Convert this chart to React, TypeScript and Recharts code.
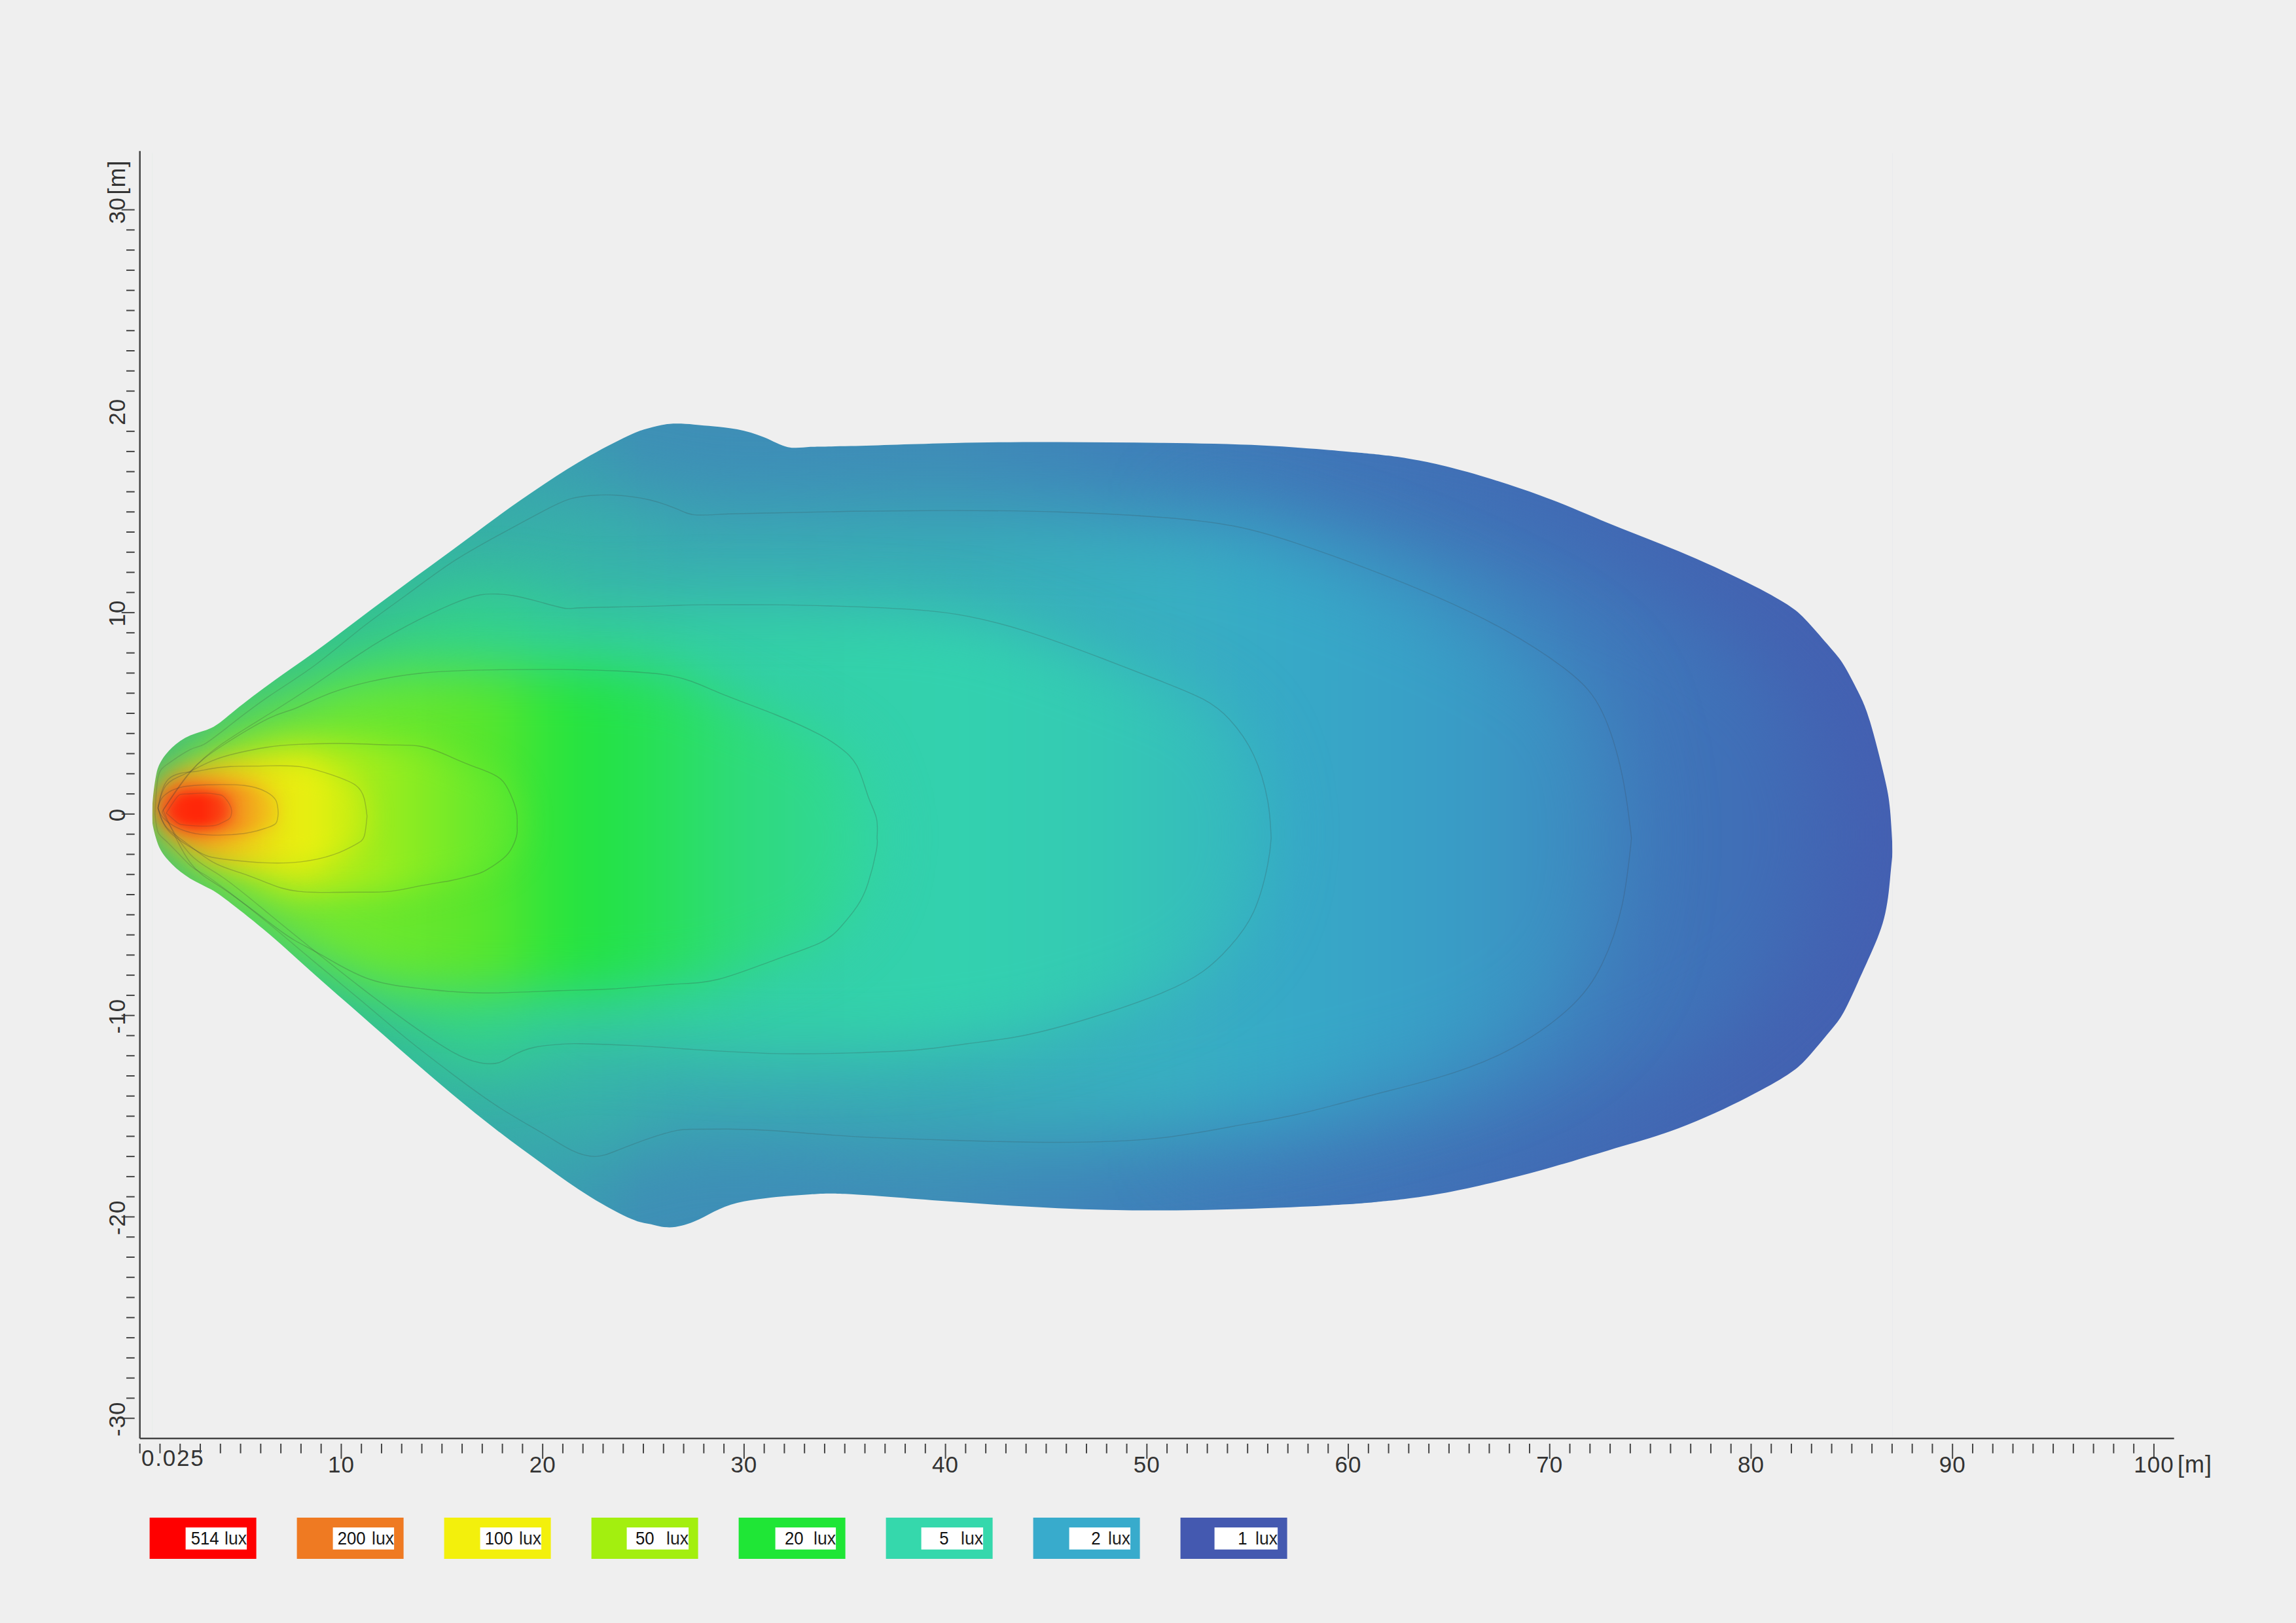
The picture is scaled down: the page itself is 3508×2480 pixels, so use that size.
import { Area, ComposedChart, XAxis, YAxis } from "recharts";

const WIDTH = 3508;
const HEIGHT = 2480;
const BG = "#efefef";
const AXIS = "#444444";
const TEXT = "#333333";
const FONT = "'Liberation Sans', Arial, sans-serif";

const xDomain = [0, 101];
const yDomain = [-31, 32.92];
const xTicks = Array.from({ length: 101 }, (_, i) => i);
const yTicks = Array.from({ length: 61 }, (_, i) => 30 - i);

// outer edge of the lit area (1 lux) in metres
const edgeX = [0.6, 0.65, 0.8, 1.04, 1.6, 2.5, 3.55, 4.56, 6.4, 8.68, 10.96, 13.24, 15.5, 17.8, 20.1, 22.36, 24.4, 25.3, 26.3, 27.5, 28.5, 29.66, 31, 32.17, 33.3, 35.3, 40.4, 45.6, 50.7, 55.8, 59.9, 62, 65.1, 69.5, 72.9, 76.4, 79.8, 81.8, 82.8, 83.9, 84.6, 85.3, 85.9, 86.6, 86.9, 87.03];
const edgeUp = [-0.1, 0.8, 1.9, 2.6, 3.3, 3.9, 4.28, 5.02, 6.43, 8.05, 9.75, 11.45, 13.1, 14.8, 16.4, 17.8, 18.85, 19.17, 19.37, 19.34, 19.25, 19.1, 18.7, 18.22, 18.23, 18.27, 18.42, 18.47, 18.43, 18.3, 18, 17.79, 17.2, 15.83, 14.45, 13.05, 11.5, 10.4, 9.55, 8.3, 7.4, 6.1, 4.6, 1.92, 0.2, -1.87];
const edgeLo = [-0.1, -0.6, -1.2, -1.8, -2.5, -3.2, -3.75, -4.46, -5.94, -7.97, -9.97, -11.97, -13.9, -15.75, -17.45, -19, -20.1, -20.35, -20.52, -20.24, -19.74, -19.3, -19.08, -18.96, -18.88, -18.87, -19.25, -19.57, -19.68, -19.57, -19.38, -19.2, -18.75, -17.7, -16.7, -15.6, -14.07, -12.95, -12.1, -10.8, -9.83, -8.36, -7.03, -5.18, -3.2, -1.87];

// isolux contours, each as x / upper y / lower y
const c2X = [0.75, 0.9, 1.4, 2.5, 3.2, 4.46, 6.4, 8.68, 10.96, 13.24, 15.5, 17.8, 20.08, 21.45, 22.6, 23.7, 25.3, 26.7, 27.6, 29.2, 31.5, 35.3, 40.4, 45.6, 50.5, 54.3, 57.5, 61, 64.4, 67.8, 70.9, 72.6, 73.6, 74.06];
const c2Up = [0, 1.8, 2.5, 3.2, 3.47, 4.4, 5.84, 7.38, 9.2, 10.88, 12.5, 13.84, 15.07, 15.67, 15.83, 15.83, 15.6, 15.13, 14.85, 14.9, 14.95, 15.03, 15.07, 15.0, 14.75, 14.3, 13.42, 12.16, 10.78, 9.12, 7.1, 5.08, 1.92, -1.2];
const c2Lo = [0, -0.9, -1.43, -2.55, -3.0, -3.9, -5.44, -7.35, -9.24, -11.15, -12.9, -14.54, -15.9, -16.7, -17.0, -16.7, -16.1, -15.7, -15.65, -15.64, -15.72, -16.0, -16.2, -16.3, -16.1, -15.5, -14.9, -14.0, -13.1, -11.8, -9.7, -7.44, -4.5, -1.2];

const c5X = [1.1, 2.5, 4.1, 6.4, 8.68, 10.96, 13.24, 15.5, 16.9, 17.8, 18.5, 19.6, 21, 21.9, 24.6, 26.9, 28, 31.5, 35.3, 38.7, 41.1, 43.85, 47.27, 50.7, 52.8, 54.1, 55.3, 56, 56.17];
const c5Up = [0.1, 2.07, 3.5, 4.96, 6.43, 7.98, 9.33, 10.42, 10.88, 10.92, 10.85, 10.6, 10.23, 10.24, 10.3, 10.37, 10.39, 10.39, 10.3, 10.13, 9.82, 9.12, 7.92, 6.6, 5.7, 4.7, 2.93, 0.65, -1.2];
const c5Lo = [0.1, -2, -3.13, -4.95, -6.8, -8.6, -10.3, -11.8, -12.35, -12.35, -12, -11.58, -11.42, -11.4, -11.5, -11.65, -11.72, -11.89, -11.86, -11.7, -11.4, -11.0, -10.1, -8.9, -7.8, -6.6, -4.85, -2.5, -1.2];

const c20X = [1.15, 2.5, 4.1, 6.4, 7.65, 9.2, 11.4, 14, 17, 20.8, 23.5, 26.46, 28.74, 31.5, 33.76, 34.8, 35.6, 36.15, 36.57, 36.6];
const c20Up = [0.2, 2.1, 3.4, 4.75, 5.22, 5.9, 6.57, 7.0, 7.15, 7.18, 7.11, 6.85, 6.03, 4.96, 3.94, 3.27, 2.4, 0.9, -0.2, -1.2];
const c20Lo = [0.2, -2.41, -3.68, -5.37, -6.25, -7.1, -8.2, -8.67, -8.88, -8.77, -8.68, -8.45, -8.2, -7.25, -6.4, -5.6, -4.6, -3.45, -1.8, -1.2];

const c50X = [0.9, 1.3, 2.25, 3.6, 4.94, 6.28, 7.9, 10.5, 12.4, 14, 15.45, 16.4, 17.07, 17.9, 18.4, 18.7, 18.73];
const c50Up = [0.3, 1.42, 2.0, 2.65, 3.05, 3.31, 3.46, 3.5, 3.43, 3.35, 2.83, 2.43, 2.18, 1.75, 0.99, 0.12, -0.6];
const c50Lo = [0.3, -0.63, -1.4, -2.37, -2.9, -3.4, -3.84, -3.88, -3.84, -3.55, -3.3, -3.07, -2.85, -2.32, -1.8, -1.1, -0.6];

const c100X = [0.9, 1.44, 2.64, 3.4, 4.5, 6.2, 8, 9.66, 10.73, 11.14, 11.28];
const c100Up = [0.3, 1.75, 2.1, 2.23, 2.36, 2.39, 2.35, 1.9, 1.42, 0.77, -0.1];
const c100Lo = [0.3, -0.85, -1.72, -2.1, -2.28, -2.42, -2.37, -2.0, -1.5, -1.1, -0.1];

const c200X = [0.9, 1.17, 2, 3.32, 5.2, 6.28, 6.76, 6.87];
const c200Up = [0.3, 0.88, 1.32, 1.45, 1.42, 1.1, 0.67, 0.05];
const c200Lo = [0.3, -0.2, -0.75, -1.03, -0.96, -0.69, -0.45, 0.05];

const c514X = [1.31, 1.85, 2.3, 3.3, 3.87, 4.14, 4.47, 4.56];
const c514Up = [0.05, 0.85, 1.0, 1.04, 0.97, 0.88, 0.45, 0.15];
const c514Lo = [0.05, -0.42, -0.55, -0.6, -0.53, -0.4, -0.2, 0.15];

// a soft zone with no contour of its own, keeps the far end from going flat
const shadeX = [52, 58, 64, 70, 75, 80, 83, 84.5];
const shadeUp = [15.5, 15, 14, 12.5, 10.5, 7.5, 4, -1];
const shadeLo = [-17, -16.8, -16, -14.5, -12.5, -9.5, -6, -1];

// colour along x for each zone
const baseStops: [number, string][] = [[0, "#4abb78"], [3, "#45bd80"], [6, "#3fc285"], [10, "#36bd92"], [15, "#36b0a5"], [20, "#3aa0b0"], [25, "#3e90b6"], [32, "#3e8eb8"], [40, "#3f8cb8"], [50, "#3f80ba"], [60, "#4075b8"], [70, "#416cb5"], [80, "#4364b2"], [87, "#4460b2"]];
const shadeStops: [number, string][] = [[52, "#3e85bc"], [62, "#3e85bc"], [70, "#3f7cbc"], [78, "#3f72b8"], [84, "#4265b3"]];
const c2Stops: [number, string][] = [[0, "#55c070"], [5, "#40cc7a"], [10, "#35c890"], [15, "#35c29a"], [20, "#36b8a5"], [25, "#38b0ae"], [30, "#39b0b2"], [40, "#38aeb6"], [50, "#38b0c0"], [58, "#37a8c8"], [65, "#399dc6"], [70, "#3c90c2"], [74, "#3f80bc"]];
const c5Stops: [number, string][] = [[0, "#70d050"], [5, "#55d850"], [10, "#3dd870"], [15, "#35d585"], [20, "#33d292"], [30, "#33cfa5"], [40, "#33d2ae"], [48, "#34c9b4"], [53, "#36bcbc"], [56, "#34b4c0"]];
const c20Stops: [number, string][] = [[0, "#90d840"], [6, "#80e430"], [11, "#70e82e"], [15, "#62e62c"], [17.8, "#55e62e"], [20, "#33e53a"], [22, "#22e340"], [26, "#28e05a"], [29.4, "#2edb78"], [33, "#30d88c"], [36.5, "#33d6a0"]];
const c50Stops: [number, string][] = [[0, "#d0b020"], [3, "#c8d020"], [6, "#c8e818"], [8, "#d5ec12"], [10, "#b4ec18"], [13, "#90ec20"], [16, "#70ea2a"], [18.7, "#55e832"]];
const c100Stops: [number, string][] = [[1, "#f07020"], [3, "#f0a020"], [5, "#eec81a"], [7, "#e8e812"], [8.5, "#e8f010"], [10, "#d0ee12"], [11.3, "#b8ec16"]];
const c200Stops: [number, string][] = [[1, "#f06020"], [2.5, "#f5501a"], [4.5, "#f5801e"], [5.5, "#f2a81c"], [6.9, "#eed018"]];
const c514Stops: [number, string][] = [[1, "#f34020"], [2, "#ff2c0a"], [3, "#ff2408"], [4, "#fa4012"], [4.6, "#f66020"]];

const legendValues = ["514", "200", "100", "50", "20", "5", "2", "1"];
const legendColors = ["#ff0000", "#ef7a22", "#f3f00c", "#a3ef0f", "#1fe636", "#35d8ac", "#38abcc", "#4459b0"];
const legendValueEnd = [106, 105, 105, 96, 99, 96, 103, 102];
const legendBoxStart = [55, 55, 55, 54, 56, 54, 55, 52];

function band(xs: number[], up: number[], lo: number[]) {
  return xs.map((x, i) => ({ x, y: [lo[i], up[i]] }));
}

const shadeZone = { id: "shade", data: band(shadeX, shadeUp, shadeLo), stops: shadeStops, blur: 55 };
const zones = [
  { id: "c2", data: band(c2X, c2Up, c2Lo), stops: c2Stops, blur: 60, line: 0.2 },
  { id: "c5", data: band(c5X, c5Up, c5Lo), stops: c5Stops, blur: 45, line: 0.22 },
  { id: "c20", data: band(c20X, c20Up, c20Lo), stops: c20Stops, blur: 40, line: 0.24 },
  { id: "c50", data: band(c50X, c50Up, c50Lo), stops: c50Stops, blur: 24, line: 0.28 },
  { id: "c100", data: band(c100X, c100Up, c100Lo), stops: c100Stops, blur: 18, line: 0.28 },
  { id: "c200", data: band(c200X, c200Up, c200Lo), stops: c200Stops, blur: 12, line: 0.28 },
  { id: "c514", data: band(c514X, c514Up, c514Lo), stops: c514Stops, blur: 8, line: 0.22 },
];
const blurred = [shadeZone, ...zones];

const baseData = [
  { x: 0.1, y: [yDomain[0] + 0.1, yDomain[1] - 0.1] },
  { x: 100.9, y: [yDomain[0] + 0.1, yDomain[1] - 0.1] },
];

// grey covers outside the edge, they give the shape its crisp outline
const coverTop = edgeX.map((x, i) => ({ x, y: [edgeUp[i], yDomain[1]] }));
const coverBottom = edgeX.map((x, i) => ({ x, y: [yDomain[0], edgeLo[i]] }));
const coverLeft = [
  { x: 0, y: yDomain },
  { x: edgeX[0] + 0.02, y: yDomain },
];
const coverRight = [
  { x: edgeX[edgeX.length - 1] - 0.02, y: yDomain },
  { x: xDomain[1], y: yDomain },
];

function Gradient({ id, stops }: { id: string; stops: [number, string][] }) {
  return (
    <linearGradient id={`grad-${id}`} gradientUnits="userSpaceOnUse" x1={213.7} x2={3321.7} y1={0} y2={0}>
      {stops.map(([x, color]) => (
        <stop key={x} offset={x / xDomain[1]} stopColor={color} />
      ))}
    </linearGradient>
  );
}

function XTick({ x, y, payload }: any) {
  const v = payload.value;
  const major = v % 10 === 0 && v > 0;
  return (
    <g>
      <line x1={x} x2={x} y1={y} y2={y + (major ? 23 : 14.7)} stroke={AXIS} strokeWidth={2} />
      {v === 0 && (
        <text x={216} y={2240} fontSize={35} letterSpacing={1.8} fill={TEXT} fontFamily={FONT}>
          0.025
        </text>
      )}
      {major && (
        <text x={x} y={2250} fontSize={35} letterSpacing={1} textAnchor="middle" fill={TEXT} fontFamily={FONT}>
          {v}
        </text>
      )}
      {v === 100 && (
        <text x={x + 36} y={2250} fontSize={36} letterSpacing={1} fill={TEXT} fontFamily={FONT}>
          [m]
        </text>
      )}
    </g>
  );
}

function YTick({ x, y, payload }: any) {
  const v = payload.value;
  const major = v % 10 === 0;
  const labelX = 178.5;
  return (
    <g>
      {/* the 20 mark is missing in the original too */}
      {v !== 20 && <line x1={x - (major ? 20 : 12.7)} x2={x} y1={y} y2={y} stroke={AXIS} strokeWidth={2} />}
      {major && (
        <text
          transform={`translate(${labelX} ${y + 1}) rotate(-90)`}
          y={12}
          fontSize={35}
          letterSpacing={1}
          textAnchor="middle"
          fill={TEXT}
          fontFamily={FONT}
        >
          {v}
        </text>
      )}
      {v === 30 && (
        <text transform={`translate(${labelX} ${y}) rotate(-90)`} x={23} y={12} fontSize={36} letterSpacing={1} fill={TEXT} fontFamily={FONT}>
          [m]
        </text>
      )}
    </g>
  );
}

function LuxLegend() {
  return (
    <svg width={WIDTH} height={HEIGHT} style={{ position: "absolute", left: 0, top: 0, pointerEvents: "none" }}>
      {legendValues.map((value, i) => {
        const left = 228.6 + i * 225;
        const digitsWidth = value.length * 14.3;
        return (
          <g key={value} fontFamily={FONT}>
            <rect x={left} y={2319} width={163} height={63} fill={legendColors[i]} />
            <rect x={left + legendBoxStart[i]} y={2334} width={148.5 - legendBoxStart[i]} height={33.7} fill="#ffffff" />
            <text
              x={left + legendValueEnd[i] - digitsWidth}
              y={2360}
              fontSize={28}
              textLength={digitsWidth}
              lengthAdjust="spacingAndGlyphs"
              fill="#111111"
            >
              {value}
            </text>
            <text x={left + 148.5 - 34} y={2360} fontSize={28} textLength={34} lengthAdjust="spacingAndGlyphs" fill="#222222">
              lux
            </text>
          </g>
        );
      })}
    </svg>
  );
}

export default function App() {
  return (
    <div style={{ position: "absolute", left: 0, top: 0, width: WIDTH, height: HEIGHT, background: BG, overflow: "hidden" }}>
      <ComposedChart width={WIDTH} height={HEIGHT} margin={{ left: 212.7, top: 230.7, right: 186.3, bottom: 281 }}>
        <defs>
          <Gradient id="base" stops={baseStops} />
          {blurred.map((z) => (
            <Gradient key={z.id} id={z.id} stops={z.stops} />
          ))}
          {blurred.map((z) => (
            <filter
              key={z.id}
              id={`blur-${z.id}`}
              filterUnits="userSpaceOnUse"
              x={0}
              y={0}
              width={WIDTH}
              height={HEIGHT}
              colorInterpolationFilters="sRGB"
            >
              <feGaussianBlur stdDeviation={z.blur} />
            </filter>
          ))}
        </defs>
        <Area
          data={baseData}
          dataKey="y"
          type="linear"
          fill="url(#grad-base)"
          fillOpacity={1}
          stroke="none"
          dot={false}
          activeDot={false}
          isAnimationActive={false}
        />
        {blurred.map((z) => (
          <Area
            key={z.id}
            data={z.data}
            dataKey="y"
            type="monotone"
            fill={`url(#grad-${z.id})`}
            fillOpacity={1}
            stroke="none"
            filter={`url(#blur-${z.id})`}
            dot={false}
            activeDot={false}
            isAnimationActive={false}
          />
        ))}
        <Area data={coverTop} dataKey="y" type="natural" fill={BG} fillOpacity={1} stroke="none" dot={false} activeDot={false} isAnimationActive={false} />
        <Area data={coverBottom} dataKey="y" type="natural" fill={BG} fillOpacity={1} stroke="none" dot={false} activeDot={false} isAnimationActive={false} />
        <Area data={coverLeft} dataKey="y" type="linear" fill={BG} fillOpacity={1} stroke="none" dot={false} activeDot={false} isAnimationActive={false} />
        <Area data={coverRight} dataKey="y" type="linear" fill={BG} fillOpacity={1} stroke="none" dot={false} activeDot={false} isAnimationActive={false} />
        {zones.map((z) => (
          <Area
            key={`${z.id}-line`}
            data={z.data}
            dataKey="y"
            type="natural"
            fill="none"
            stroke="#3c3c3c"
            strokeOpacity={z.line}
            strokeWidth={1.4}
            dot={false}
            activeDot={false}
            isAnimationActive={false}
          />
        ))}
        <XAxis
          type="number"
          dataKey="x"
          domain={xDomain}
          ticks={xTicks}
          interval={0}
          height={1}
          tickLine={false}
          tick={XTick}
          axisLine={{ stroke: AXIS, strokeWidth: 2.5 }}
          allowDataOverflow
        />
        <YAxis
          type="number"
          domain={yDomain}
          ticks={yTicks}
          interval={0}
          width={1}
          tickLine={false}
          tick={YTick}
          axisLine={{ stroke: AXIS, strokeWidth: 2.5 }}
          allowDataOverflow
        />
      </ComposedChart>
      <LuxLegend />
    </div>
  );
}
